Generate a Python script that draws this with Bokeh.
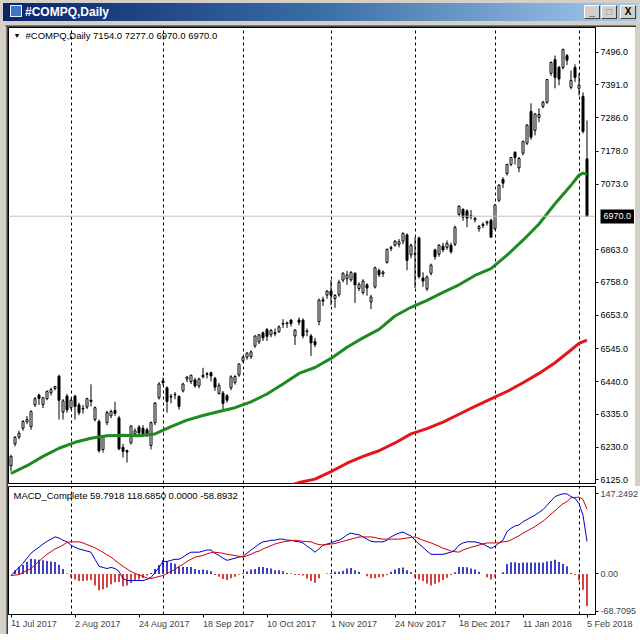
import numpy as np
from bokeh.plotting import figure
from bokeh.models import (ColumnDataSource, Range1d, FixedTicker, Span, Label, Div,
                          PrintfTickFormatter, LinearAxis)
from bokeh.layouts import column, row
from bokeh.embed import file_html
from bokeh.resources import INLINE

# ---------------- data ----------------
symbol = "#COMPQ"
timeframe = "Daily"
indicator_name = "MACD_Complete"

trading_days = {
    (2017, 7): [11, 12, 13, 14, 17, 18, 19, 20, 21, 24, 25, 26, 27, 28, 31],
    (2017, 8): [1, 2, 3, 4, 7, 8, 9, 10, 11, 14, 15, 16, 17, 18, 21, 22, 23, 24, 25, 28, 29, 30, 31],
    (2017, 9): [1, 5, 6, 7, 8, 11, 12, 13, 14, 15, 18, 19, 20, 21, 22, 25, 26, 27, 28, 29],
    (2017, 10): [2, 3, 4, 5, 6, 9, 10, 11, 12, 13, 16, 17, 18, 19, 20, 23, 24, 25, 26, 27, 30, 31],
    (2017, 11): [1, 2, 3, 6, 7, 8, 9, 10, 13, 14, 15, 16, 17, 20, 21, 22, 24, 27, 28, 29, 30],
    (2017, 12): [1, 4, 5, 6, 7, 8, 11, 12, 13, 14, 15, 18, 19, 20, 21, 22, 26, 27, 28, 29],
    (2018, 1): [2, 3, 4, 5, 8, 9, 10, 11, 12, 16, 17, 18, 19, 22, 23, 24, 25, 26, 29, 30, 31],
    (2018, 2): [1, 2, 5],
}
month_names = ["Jan", "Feb", "Mar", "Apr", "May", "Jun", "Jul", "Aug", "Sep", "Oct", "Nov", "Dec"]

opens = [6170, 6240, 6262, 6290, 6311, 6295, 6365, 6397, 6366, 6385,
         6404, 6418, 6457, 6342, 6393, 6356, 6393, 6365, 6354, 6358,
         6380, 6318, 6312, 6222, 6308, 6330, 6347, 6323, 6229, 6218,
         6243, 6272, 6294, 6290, 6285, 6235, 6308, 6388, 6442, 6420,
         6390, 6397, 6392, 6410, 6448, 6440, 6445, 6426, 6455, 6463,
         6468, 6450, 6402, 6403, 6394, 6420, 6437, 6461, 6506, 6518,
         6520, 6554, 6567, 6596, 6606, 6590, 6597, 6600, 6624, 6625,
         6637, 6586, 6637, 6637, 6600, 6586, 6568, 6632, 6702, 6717,
         6730, 6706, 6718, 6765, 6770, 6766, 6787, 6738, 6725, 6750,
         6695, 6743, 6796, 6786, 6822, 6866, 6877, 6880, 6890, 6910,
         6846, 6850, 6900, 6772, 6737, 6787, 6862, 6848, 6874, 6870,
         6877, 6880, 6976, 6992, 6987, 6968, 6958, 6930, 6940, 6948,
         6957, 6930, 7021, 7088, 7107, 7136, 7175, 7125, 7172, 7204,
         7306, 7245, 7287, 7322, 7335, 7428, 7472, 7447, 7447, 7485,
         7383, 7447, 7380, 7354, 7154]
highs = [6205, 6265, 6282, 6316, 6329, 6347, 6390, 6400, 6390, 6412,
         6420, 6426, 6462, 6384, 6400, 6385, 6398, 6372, 6365, 6388,
         6431, 6360, 6318, 6268, 6346, 6350, 6375, 6330, 6240, 6222,
         6300, 6290, 6300, 6300, 6292, 6312, 6374, 6438, 6452, 6424,
         6400, 6406, 6396, 6436, 6458, 6462, 6452, 6452, 6484, 6470,
         6472, 6455, 6435, 6410, 6400, 6460, 6460, 6498, 6522, 6534,
         6540, 6588, 6592, 6600, 6612, 6608, 6610, 6620, 6640, 6632,
         6640, 6608, 6645, 6642, 6610, 6592, 6580, 6706, 6712, 6733,
         6765, 6720, 6766, 6790, 6795, 6794, 6790, 6758, 6768, 6755,
         6718, 6808, 6802, 6796, 6866, 6875, 6893, 6897, 6918, 6915,
         6882, 6903, 6905, 6790, 6780, 6818, 6866, 6880, 6885, 6892,
         6885, 6940, 7005, 6995, 6992, 6990, 6968, 6942, 6950, 6956,
         6962, 7008, 7072, 7095, 7138, 7160, 7178, 7160, 7212, 7265,
         7332, 7300, 7316, 7340, 7410, 7466, 7485, 7452, 7507, 7490,
         7437, 7457, 7428, 7367, 7277]
lows = [6152, 6232, 6255, 6282, 6303, 6285, 6358, 6365, 6355, 6380,
        6395, 6412, 6318, 6318, 6340, 6350, 6318, 6332, 6337, 6352,
        6360, 6312, 6212, 6212, 6300, 6322, 6330, 6220, 6196, 6180,
        6238, 6262, 6262, 6262, 6262, 6222, 6300, 6382, 6428, 6340,
        6370, 6383, 6350, 6405, 6438, 6432, 6420, 6418, 6450, 6450,
        6440, 6410, 6398, 6348, 6372, 6412, 6430, 6455, 6500, 6510,
        6512, 6548, 6560, 6570, 6570, 6582, 6585, 6596, 6612, 6612,
        6616, 6557, 6620, 6578, 6585, 6522, 6550, 6620, 6682, 6705,
        6685, 6676, 6712, 6758, 6750, 6760, 6692, 6730, 6718, 6715,
        6672, 6738, 6775, 6775, 6818, 6858, 6872, 6870, 6880, 6797,
        6835, 6740, 6770, 6744, 6730, 6780, 6830, 6840, 6855, 6862,
        6850, 6874, 6970, 6955, 6935, 6960, 6950, 6920, 6932, 6940,
        6900, 6925, 7015, 7060, 7100, 7130, 7136, 7111, 7165, 7198,
        7215, 7229, 7271, 7316, 7330, 7420, 7380, 7390, 7440, 7455,
        7377, 7400, 7357, 7235, 6970]
closes = [6200, 6261, 6274, 6312, 6318, 6344, 6385, 6386, 6388, 6408,
          6414, 6424, 6380, 6378, 6349, 6380, 6360, 6340, 6352, 6385,
          6376, 6356, 6218, 6262, 6340, 6344, 6338, 6224, 6216, 6214,
          6297, 6282, 6275, 6268, 6272, 6308, 6371, 6432, 6436, 6376,
          6393, 6399, 6360, 6432, 6454, 6460, 6426, 6448, 6460, 6465,
          6458, 6422, 6428, 6370, 6380, 6455, 6456, 6496, 6518, 6531,
          6535, 6586, 6590, 6580, 6585, 6604, 6593, 6615, 6626, 6628,
          6626, 6605, 6630, 6586, 6602, 6564, 6558, 6701, 6698, 6730,
          6716, 6716, 6758, 6787, 6782, 6790, 6750, 6752, 6762, 6740,
          6711, 6805, 6782, 6791, 6864, 6870, 6890, 6888, 6915, 6828,
          6877, 6848, 6776, 6762, 6775, 6813, 6840, 6877, 6862, 6883,
          6856, 6934, 7002, 6967, 6964, 6972, 6963, 6937, 6944, 6952,
          6903, 7006, 7070, 7076, 7136, 7158, 7158, 7155, 7210, 7262,
          7223, 7298, 7296, 7335, 7408, 7463, 7415, 7410, 7505, 7470,
          7405, 7415, 7390, 7242, 6970]

# moving averages (bar index, value)
ma_green_idx = [0, 4, 8, 12, 16, 20, 24, 28, 32, 36, 40, 44, 48, 52, 56, 60, 64, 68, 72, 76,
                80, 84, 88, 92, 96, 100, 104, 108, 112, 116, 120, 124, 128, 132, 136, 140, 142, 143, 144]
ma_green = [6145, 6170, 6200, 6226, 6245, 6258, 6266, 6268, 6266, 6272, 6295, 6316, 6331, 6344,
            6356, 6375, 6400, 6432, 6466, 6485, 6514, 6550, 6580, 6607, 6650, 6678, 6700, 6726,
            6750, 6780, 6802, 6845, 6893, 6945, 7010, 7069, 7102, 7108, 7104]
ma_red_idx = [68, 72, 76, 80, 84, 88, 92, 96, 100, 104, 108, 112, 116, 120, 124, 128, 132,
              136, 140, 142, 144]
ma_red = [6100, 6116, 6127, 6151, 6178, 6200, 6218, 6243, 6272, 6289, 6310, 6335, 6360, 6384,
          6408, 6436, 6466, 6500, 6541, 6562, 6573]

macd_main = [-2.8, 4.7, 12, 19.5, 29, 38, 44, 49, 55, 60,
             64, 68, 66, 62, 59, 53, 49, 46, 44, 42,
             40, 27, 14, 12, 10, 12, 10, 4.7, -8.4, -12,
             -12, -12, -12, -12, -10, -6.5, 2.8, 12, 23, 23,
             25, 27, 27, 31, 36, 40, 40, 40, 42, 44,
             44, 38, 34, 29, 25, 27, 29, 31, 32.5, 38,
             44, 49, 55, 59, 60, 62, 62, 64, 64, 62,
             62, 60, 59, 57, 51, 46, 40, 46, 53, 55,
             57, 60, 62, 66, 72, 75, 73, 72, 68, 64,
             60, 59, 59, 59, 62, 68, 72, 75, 77, 73,
             70, 62, 55, 49, 42, 36, 36, 36, 36, 38,
             40, 44, 53, 57, 59, 59, 59, 57, 55, 51,
             47, 51, 57, 62, 78, 84, 88, 90, 96, 100,
             104, 108, 113, 118, 126, 134, 142, 145, 147.2492, 147,
             142, 139, 129, 108, 59.7918]
macd_signal = [-2.8, -2, -1.3, 2.8, 6.5, 10, 17, 23, 30, 36,
               41, 46, 49, 53, 58, 59, 59, 59, 57, 54,
               51, 48, 44, 40, 35, 31, 25, 19.5, 14, 9,
               4.6, 0.9, -1.9, -4.6, -7.4, -8.4, -6.5, -4.6, -2.8, 0.9,
               4.6, 8.4, 14, 17.7, 23, 27, 31, 32.5, 34, 37,
               39, 40, 39, 38, 36, 35, 34, 32.5, 31, 33.5,
               36, 40, 42, 46, 49, 52, 55, 57, 59, 60,
               61, 62, 61, 60, 59.5, 59, 56, 54, 53, 54,
               55, 56, 58, 60, 62, 64, 66, 68, 68, 68,
               68, 67, 65, 64, 64, 64, 64, 64, 65, 66,
               67, 68, 65, 62, 59.5, 57, 54, 51, 47, 45,
               42, 41, 40, 44, 46.5, 49, 51, 53, 55, 57,
               57, 57, 57, 59, 59.5, 62.5, 66.5, 70, 75, 79,
               83, 87, 92, 97, 103, 110, 116, 123, 129, 133,
               140, 140.5, 141, 137, 118.6850]

price_ticks = [6125.0, 6230.0, 6335.0, 6440.0, 6545.0, 6653.0, 6758.0, 6863.0,
               7073.0, 7178.0, 7286.0, 7391.0, 7496.0]
macd_ticks = [-68.7095, 0.0, 147.2492]
date_tick_idx = [0, 16, 32, 48, 64, 80, 96, 112, 128, 144]

# ---------------- derived ----------------
dates = [(y, m, d) for (y, m), days in trading_days.items() for d in days]
N = len(dates)
idx = np.arange(N)
o = np.array(opens, float); h = np.array(highs, float)
l = np.array(lows, float); c = np.array(closes, float)
bull = c >= o
month_starts = [i for i in range(1, N) if dates[i][1] != dates[i - 1][1]]
date_labels = {i: f"{dates[i][2]} {month_names[dates[i][1] - 1]} {dates[i][0]}" for i in date_tick_idx}

macd_v = np.array(macd_main); sig_v = np.array(macd_signal)
hist = macd_v - sig_v
hist_col = np.where(hist >= 0, "#0000b0", "#c80000")

FONT = "Liberation Sans"
GRAY = "#d4d0c8"
FRAME_W = 587
x_range = Range1d(-0.625, -0.625 + FRAME_W / 4.0)

# ---------------- window chrome ----------------
btn = ('<div style="position:absolute;top:5px;left:{l}px;width:16px;height:14px;background:' + GRAY + ';'
       'border-top:1px solid #fff;border-left:1px solid #fff;border-right:1px solid #404040;'
       'border-bottom:1px solid #404040;box-sizing:border-box;font:bold 10px \'' + FONT + '\',sans-serif;'
       'color:{col};text-align:center;line-height:11px;">{t}</div>')
title_html = (
    '<div style="position:relative;width:640px;height:27px;background:' + GRAY + ';overflow:hidden;">'
    '<div style="position:absolute;left:3px;top:3px;width:634px;height:18px;'
    'background:linear-gradient(to right,#0a246a 0%,#3a6ea5 50%,#a6caf0 100%);"></div>'
    '<div style="position:absolute;left:10px;top:5px;width:12px;height:12px;background:#3f76c0;'
    'border:1px solid #e6eef8;box-sizing:border-box;"></div>'
    '<div style="position:absolute;left:25px;top:3px;line-height:18px;color:#fff;'
    'font-family:\'' + FONT + '\',sans-serif;font-weight:bold;font-size:12px;">'
    + f'{symbol},{timeframe}</div>'
    + btn.format(l=584, col="#000", t="_")
    + btn.format(l=601, col="#808080", t="&#9633;")
    + btn.format(l=620, col="#000", t="X")
    + '<div style="position:absolute;left:5px;top:25px;width:631px;height:1px;background:#808080;"></div>'
    + '<div style="position:absolute;left:6px;top:26px;width:630px;height:1px;background:#404040;"></div>'
    + '</div>'
)
title_div = Div(text=title_html, width=640, height=27, margin=0)


def strip(w, hgt, shadow):
    return Div(text=f'<div style="width:{w}px;height:{hgt}px;background:{GRAY};box-shadow:{shadow};"></div>',
               width=w, height=hgt, margin=0)


MAIN_H = 459
MACD_H = 148
left_main = strip(8, MAIN_H, "inset -1px 0 0 #404040, inset -2px 0 0 #808080")
left_macd = strip(8, MACD_H, "inset -1px 0 0 #404040, inset -2px 0 0 #808080")
right_main = strip(7, MAIN_H, "inset 1px 0 0 #ffffff, inset -1px 0 0 #404040")
bottom_div = strip(640, 6, "inset 0 1px 0 #ffffff")

# ---------------- main price pane ----------------
p = figure(frame_width=FRAME_W, frame_height=456, x_range=x_range, y_range=Range1d(6113, 7575),
           output_backend="svg", toolbar_location=None, tools="",
           x_axis_location=None, y_axis_location="right",
           min_border_left=0, min_border_right=38, min_border_top=0, min_border_bottom=3,
           background_fill_color="white", border_fill_color="white",
           outline_line_color="black", outline_line_width=1)
p.ygrid.visible = False
p.xgrid.ticker = FixedTicker(ticks=month_starts)
p.xgrid.grid_line_color = "black"
p.xgrid.grid_line_dash = "3 3"
p.xgrid.grid_line_width = 1

yax = p.yaxis[0]
yax.ticker = FixedTicker(ticks=price_ticks)
yax.formatter = PrintfTickFormatter(format="%.1f")
yax.major_label_text_font = FONT
yax.major_label_text_font_size = "9px"
yax.major_label_text_color = "black"
yax.major_tick_out = 3
yax.major_tick_in = 0
yax.minor_tick_line_color = None
yax.major_label_standoff = 2
yax.axis_line_color = "black"

# last-price marker on the price scale: a second axis stacked outside the first,
# whose single thick tick (drawn back inward) forms the black box behind its label
bid_axis = LinearAxis(ticker=FixedTicker(ticks=[closes[-1]]),
                      formatter=PrintfTickFormatter(format="%.1f"),
                      major_tick_out=4, major_tick_in=31, major_tick_line_width=14,
                      major_tick_line_color="black", major_tick_line_cap="butt",
                      minor_tick_line_color=None, axis_line_color=None,
                      major_label_text_font=FONT, major_label_text_font_size="9px",
                      major_label_text_color="white", major_label_standoff=-32)
p.add_layout(bid_axis, "right")

p.add_layout(Span(location=closes[-1], dimension="width", line_color="#c0c0c0", line_width=1))

src = ColumnDataSource(dict(x=idx, top=np.maximum(o, c), bottom=np.minimum(o, c),
                            high=h, low=l, fill=np.where(bull, "white", "black")))
p.segment(x0="x", y0="low", x1="x", y1="high", source=src, line_color="black", line_width=1)
p.vbar(x="x", width=0.5, top="top", bottom="bottom", fill_color="fill", line_color="black",
       line_width=1, source=src)

p.line(ma_green_idx, ma_green, line_color="#1f8a1f", line_width=3)
p.line(ma_red_idx, ma_red, line_color="#e4161c", line_width=3)

p.add_layout(Label(x=x_range.start, y=7575, x_offset=5, y_offset=-4, text="\u25bc",
                   text_font=FONT, text_font_size="7px", text_baseline="top", text_color="black"))
p.add_layout(Label(x=x_range.start, y=7575, x_offset=17, y_offset=-2,
                   text=f"{symbol},{timeframe}  {o[-1]:.1f} {h[-1]:.1f} {l[-1]:.1f} {c[-1]:.1f}",
                   text_font=FONT, text_font_size="9.5px", text_baseline="top", text_color="black"))

# ---------------- MACD pane ----------------
m = figure(frame_width=FRAME_W, frame_height=128, x_range=x_range, y_range=Range1d(-74.4, 160.6),
           output_backend="svg", toolbar_location=None, tools="",
           y_axis_location="right",
           min_border_left=0, min_border_right=38, min_border_top=0, min_border_bottom=20,
           background_fill_color="white", border_fill_color="white",
           outline_line_color="black", outline_line_width=1)
m.ygrid.visible = False
m.xgrid.ticker = FixedTicker(ticks=month_starts)
m.xgrid.grid_line_color = "black"
m.xgrid.grid_line_dash = "3 3"

myax = m.yaxis[0]
myax.ticker = FixedTicker(ticks=macd_ticks)
myax.formatter = PrintfTickFormatter(format="%.4f")
myax.major_label_overrides = {0: "0.00"}
myax.major_label_text_font = FONT
myax.major_label_text_font_size = "9px"
myax.major_tick_out = 3
myax.major_tick_in = 0
myax.minor_tick_line_color = None
myax.major_label_standoff = 2
myax.axis_line_color = "black"

xax = m.xaxis[0]
xax.ticker = FixedTicker(ticks=date_tick_idx)
xax.major_label_overrides = date_labels
xax.major_label_text_font = FONT
xax.major_label_text_font_size = "9px"
xax.major_label_orientation = -0.0001   # tiny tilt -> labels anchored at their left end
xax.major_tick_out = 3
xax.major_tick_in = 0
xax.minor_tick_line_color = None
xax.major_label_standoff = 6
xax.axis_line_color = "black"

hsrc = ColumnDataSource(dict(x=idx, zero=np.zeros(N), hist=hist, col=hist_col))
m.segment(x0="x", y0="zero", x1="x", y1="hist", line_color="col", line_width=1.5, source=hsrc)
m.line(idx, macd_v, line_color="#0000c8", line_width=1)
m.line(idx, sig_v, line_color="#d00000", line_width=1)

up = max(hist[-1], 0.0)
down = min(hist[-1], 0.0)
m.add_layout(Label(x=x_range.start, y=160.6, x_offset=5, y_offset=-3,
                   text=f"{indicator_name} {macd_v[-1]:.4f} {sig_v[-1]:.4f} {up:.4f} {down:.4f}",
                   text_font=FONT, text_font_size="9.5px", text_baseline="top", text_color="black"))

layout = column(title_div,
                row(left_main, p, right_main, spacing=0),
                row(left_macd, m, spacing=0),
                bottom_div, spacing=0)
open("out.html", "w").write(file_html(layout, INLINE))
